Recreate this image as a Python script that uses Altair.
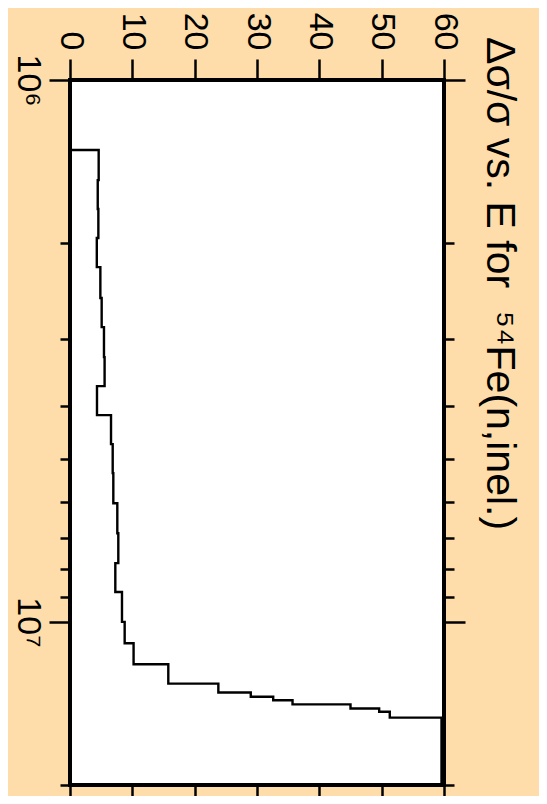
import altair as alt
import pandas as pd

# Energy bin edges (eV) and relative uncertainty (%) per bin
bin_edges = [1.346e6, 1.53e6, 1.73e6, 1.957e6, 2.215e6, 2.526e6, 2.858e6, 3.246e6,
             3.672e6, 4.153e6, 4.699e6, 5.315e6, 6.04e6, 6.86e6, 7.79e6, 8.81e6,
             1.0e7, 1.095e7, 1.197e7, 1.30e7, 1.35e7, 1.375e7, 1.395e7, 1.42e7,
             1.445e7, 1.465e7, 1.502e7, 2.0e7]
rel_unc = [4.6, 4.45, 4.55, 4.3, 4.87, 5.08, 5.45, 5.55, 4.33, 6.58, 6.85, 6.95,
           7.59, 7.75, 7.27, 8.34, 8.77, 10.2, 15.77, 23.8, 29.0, 32.6, 35.7,
           45.0, 49.6, 51.3, 59.6]

x_ticks = [0, 10, 20, 30, 40, 50, 60]
e_ticks = [1e6, 2e6, 3e6, 4e6, 5e6, 6e6, 7e6, 8e6, 9e6, 1e7, 2e7]
e_domain = [1e6, 2e7]
x_domain = [0, 60]

# histogram outline vertices built from the bins
rows = [{"i": 0, "val": 0.0, "E": bin_edges[0]}]
for k, v in enumerate(rel_unc):
    rows.append({"i": len(rows), "val": v, "E": bin_edges[k]})
    rows.append({"i": len(rows), "val": v, "E": bin_edges[k + 1]})
df = pd.DataFrame(rows)

FONT = "Liberation Sans"
major_test = "datum.value == 1000000 || datum.value == 10000000"
tick_cond = {"condition": {"test": major_test, "value": 21}, "value": 10}

xscale = alt.Scale(domain=x_domain, nice=False, zero=False)
yscale = alt.Scale(type="log", domain=e_domain, nice=False, reverse=True)

top_axis = alt.Axis(orient="top", values=x_ticks, tickSize=21, labelPadding=9,
                    labelAngle=90, labelAlign="right", labelBaseline="middle",
                    labelFontSize=34, labelFlush=False, labelOverlap=False,
                    labelBound=False, title=None)
left_axis = alt.Axis(orient="left", values=e_ticks, tickSize=tick_cond,
                     labelExpr="datum.value == 1000000 ? '10\u2076' : (datum.value == 10000000 ? '10\u2077' : '')",
                     labelAngle=90, labelAlign="center", labelBaseline="top",
                     labelPadding=5, labelFontSize=34, labelFlush=False,
                     labelOverlap=False, labelBound=False, title=None)
bottom_axis = alt.Axis(orient="bottom", values=x_ticks, tickSize=21,
                       labels=False, title=None)
right_axis = alt.Axis(orient="right", values=e_ticks, tickSize=tick_cond,
                      labels=False, title=None)

line = alt.Chart(df).mark_line(color="black", strokeWidth=2.4).encode(
    x=alt.X("val:Q", scale=xscale, axis=top_axis),
    y=alt.Y("E:Q", scale=yscale, axis=left_axis),
    order="i:Q",
)
mirror = alt.Chart(df).mark_line(color="black", strokeOpacity=0).encode(
    x=alt.X("val:Q", scale=xscale, axis=bottom_axis),
    y=alt.Y("E:Q", scale=yscale, axis=right_axis),
    order="i:Q",
)

chart = alt.layer(line, mirror).resolve_axis(
    x="independent", y="independent"
).properties(
    width=374,
    height=705,
    autosize=alt.AutoSizeParams(type="none"),
    padding={"left": 62, "top": 72, "right": 95, "bottom": 11},
    background="#FEDDAA",
    title=alt.TitleParams(
        text="\u0394\u03c3/\u03c3 vs. E for\u00a0 \u2075\u2074Fe(n,inel.)",
        orient="right", anchor="start", frame="group", angle=90, font=FONT,
        fontSize=41, fontWeight="normal", color="black", offset=12, dx=-43,
    ),
).configure_view(
    stroke="black", strokeWidth=4, fill="white"
).configure_axis(
    domain=False, grid=False, tickColor="black", tickWidth=2.5,
    labelColor="black", labelFont=FONT,
)

chart.save("out.html", embed_options={"renderer": "svg", "actions": False})
